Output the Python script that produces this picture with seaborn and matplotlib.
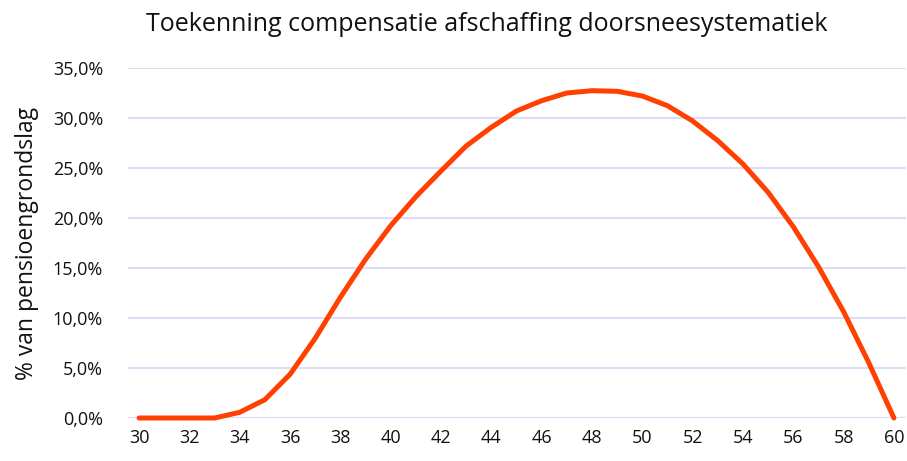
import matplotlib
matplotlib.use("Agg")
import matplotlib.pyplot as plt
import pandas as pd
import seaborn as sns
from matplotlib.ticker import FuncFormatter, MultipleLocator

leeftijd = list(range(30, 61))
compensatie = [0.0, 0.0, 0.0, 0.0, 0.57, 1.83, 4.37, 7.97, 12.07, 15.87,
               19.23, 22.13, 24.7, 27.2, 29.07, 30.7, 31.73, 32.5, 32.73, 32.67,
               32.2, 31.23, 29.7, 27.73, 25.4, 22.57, 19.13, 15.13, 10.63, 5.53, 0.0]

df = pd.DataFrame({"leeftijd": leeftijd, "compensatie": compensatie})

sns.set_style("white")
plt.rcParams["font.family"] = ["Open Sans", "DejaVu Sans"]

fig = plt.figure(figsize=(9.07, 4.61), dpi=100)
ax = fig.add_axes([128 / 907, 1 - 418 / 461, (906 - 128) / 907, 350 / 461])

sns.lineplot(data=df, x="leeftijd", y="compensatie", ax=ax, color="#FF4000",
             linewidth=3.6, clip_on=False, zorder=3)

ax.set_xlim(29.56, 60.48)
ax.set_ylim(0, 35)
ax.xaxis.set_major_locator(MultipleLocator(2))
ax.yaxis.set_major_locator(MultipleLocator(5))
ax.yaxis.set_major_formatter(FuncFormatter(lambda v, p: f"{v:.1f}%".replace(".", ",")))
ax.grid(axis="y", color="#DCDCF8", linewidth=1.5)
ax.set_axisbelow(True)
for s in ax.spines.values():
    s.set_visible(False)
ax.tick_params(axis="both", length=0, labelsize=13, colors="#111111")
ax.tick_params(axis="x", pad=8)
ax.tick_params(axis="y", pad=18)

ax.set_xlabel("")
ax.set_ylabel("% van pensioengrondslag", fontsize=16.5, color="#111111", labelpad=10)
fig.text(487 / 907, 0.975, "Toekenning compensatie afschaffing doorsneesystematiek",
         ha="center", va="top", fontsize=18, color="#111111")

fig.savefig("out.png", dpi=100)
